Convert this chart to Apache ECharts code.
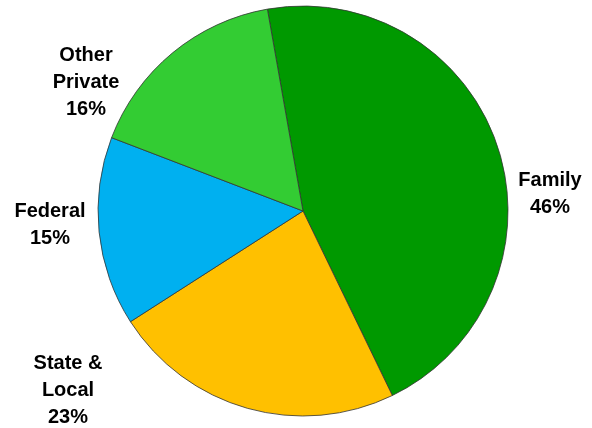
<!DOCTYPE html>
<html>
<head>
<meta charset="utf-8">
<script src="https://cdn.jsdelivr.net/npm/echarts@6/dist/echarts.min.js"></script>
<style>
html,body{margin:0;padding:0;background:#fff;}
#chart{width:592px;height:428px;}
</style>
</head>
<body>
<div id="chart"></div>
<script>
const categories = ['Family', 'State &\nLocal', 'Federal', 'Other\nPrivate'];
const values = [45.6, 23.1, 14.9, 16.4];
const colors = ['#009900', '#FFC000', '#00B0F0', '#33CC33'];
const labelPos = [[550, 194], [68, 390], [50, 225], [86, 82]];

const chart = echarts.init(document.getElementById('chart'));
chart.setOption({
  animation: false,
  series: [{
    type: 'pie',
    center: [303, 211],
    radius: 205,
    startAngle: 100,
    clockwise: true,
    data: categories.map((c, i) => ({ name: c, value: values[i], itemStyle: { color: colors[i] } })),
    itemStyle: { borderColor: '#333', borderWidth: 0.8 },
    label: {
      show: true,
      position: 'outside',
      alignTo: 'none',
      overflow: 'none',
      formatter: p => p.name + '\n' + Math.round(p.value) + '%',
      fontFamily: 'Liberation Sans, Arial, sans-serif',
      fontWeight: 'bold',
      fontSize: 20,
      lineHeight: 27,
      color: '#000',
      align: 'center'
    },
    labelLine: { show: false },
    labelLayout: function (params) {
      const p = labelPos[params.dataIndex];
      return { x: p[0], y: p[1], align: 'center', verticalAlign: 'middle' };
    }
  }]
});
</script>
</body>
</html>
